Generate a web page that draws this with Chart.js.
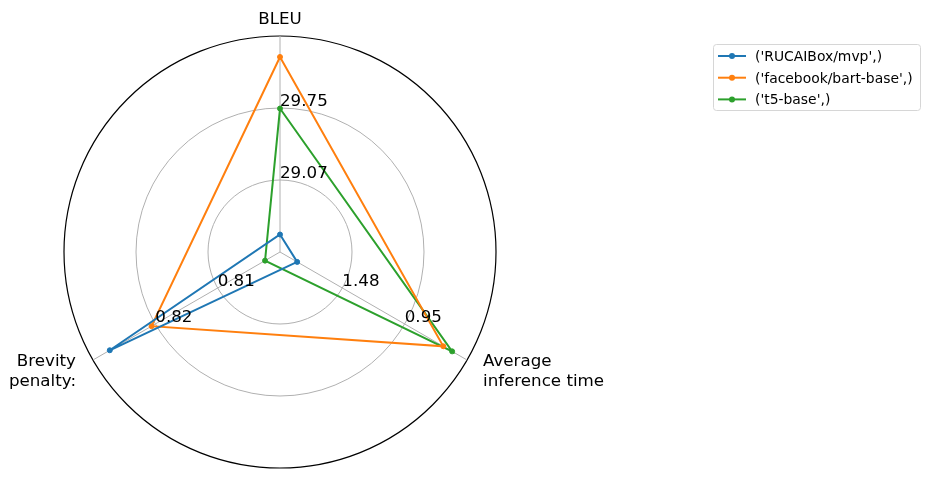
<!DOCTYPE html>
<html>
<head>
<meta charset="utf-8">
<script src="https://cdn.jsdelivr.net/npm/chart.js@4.4.1/dist/chart.umd.min.js"></script>
<style>
  html, body { margin: 0; padding: 0; background: #fff; }
  canvas { display: block; }
</style>
</head>
<body>
<canvas id="radar" width="931" height="479"></canvas>
<script>
// axes, clockwise from the top
var axisNames = [["BLEU"], ["Average", "inference time"], ["Brevity", "penalty:"]];
// value at the centre and at the outer ring of each axis
var axisLow = [28.39, 2.01, 0.80];
var axisHigh = [30.43, 0.42, 0.83];
// labels on the 1/3 and 2/3 rings
var tickLabels = [["29.07", "29.75"], ["1.48", "0.95"], ["0.81", "0.82"]];

var models = ["('RUCAIBox/mvp',)", "('facebook/bart-base',)", "('t5-base',)"];
var mvpValues = [28.555, 1.864, 0.8273];
var bartValues = [30.232, 0.622, 0.8206];
var t5Values = [29.745, 0.547, 0.8024];
var colors = ["#1f77b4", "#ff7f0e", "#2ca02c"];

function scaled(values) {
    return values.map(function (v, i) {
        return (v - axisLow[i]) / (axisHigh[i] - axisLow[i]);
    });
}

var font = "DejaVu Sans, sans-serif";

var labelsPlugin = {
    id: "labels",
    afterDraw: function (chart) {
        var ctx = chart.ctx;
        var scale = chart.scales.r;
        ctx.save();
        ctx.fillStyle = "#000";

        // ring labels, one set per axis
        ctx.font = "16.7px " + font;
        ctx.textAlign = "left";
        ctx.textBaseline = "alphabetic";
        tickLabels.forEach(function (pair, i) {
            pair.forEach(function (text, j) {
                var p = scale.getPointPositionForValue(i, (j + 1) / 3);
                ctx.fillText(text, p.x, p.y - 2);
            });
        });

        // axis names
        ctx.textAlign = "center";
        ctx.fillText(axisNames[0][0], 280, 24);
        ctx.textAlign = "left";
        ctx.fillText(axisNames[1][0], 483, 366);
        ctx.fillText(axisNames[1][1], 483, 386);
        ctx.textAlign = "right";
        ctx.fillText(axisNames[2][0], 76, 366);
        ctx.fillText(axisNames[2][1], 76, 386);

        // legend
        ctx.beginPath();
        ctx.roundRect(713.5, 44.5, 207, 66, 3);
        ctx.fillStyle = "rgba(255,255,255,0.8)";
        ctx.fill();
        ctx.strokeStyle = "#d6d6d6";
        ctx.lineWidth = 1;
        ctx.stroke();
        ctx.font = "13.9px " + font;
        ctx.textAlign = "left";
        models.forEach(function (name, k) {
            var y = 56 + k * 21.7;
            ctx.strokeStyle = colors[k];
            ctx.lineWidth = 2;
            ctx.beginPath();
            ctx.moveTo(718, y);
            ctx.lineTo(746, y);
            ctx.stroke();
            ctx.fillStyle = colors[k];
            ctx.beginPath();
            ctx.arc(732, y, 3, 0, Math.PI * 2);
            ctx.fill();
            ctx.fillStyle = "#000";
            ctx.fillText(name, 755, y + 5);
        });
        ctx.restore();
    }
};

var allValues = [mvpValues, bartValues, t5Values];

new Chart(document.getElementById("radar").getContext("2d"), {
    type: "radar",
    data: {
        labels: axisNames.map(function (n) { return n.join(" "); }),
        datasets: allValues.map(function (values, k) {
            return {
                label: models[k],
                data: scaled(values),
                borderColor: colors[k],
                backgroundColor: colors[k],
                pointBackgroundColor: colors[k],
                pointBorderColor: colors[k],
                borderWidth: 2,
                pointRadius: 2.5,
                pointBorderWidth: 1,
                fill: false,
                tension: 0
            };
        })
    },
    options: {
        responsive: false,
        animation: false,
        devicePixelRatio: 1,
        layout: { padding: { left: 64, top: 36, right: 435, bottom: 11 } },
        plugins: {
            legend: { display: false },
            tooltip: { enabled: false }
        },
        scales: {
            r: {
                min: 0,
                max: 1,
                afterBuildTicks: function (scale) {
                    scale.ticks = [0, 1 / 3, 2 / 3, 1].map(function (v) { return { value: v }; });
                },
                ticks: { display: false },
                pointLabels: { display: false },
                grid: {
                    circular: true,
                    color: function (c) { return c.index === 3 ? "#000" : "#b0b0b0"; },
                    lineWidth: function (c) { return c.index === 3 ? 1.2 : 1; }
                },
                angleLines: { color: "#b0b0b0", lineWidth: 1 }
            }
        }
    },
    plugins: [labelsPlugin]
});
</script>
</body>
</html>
